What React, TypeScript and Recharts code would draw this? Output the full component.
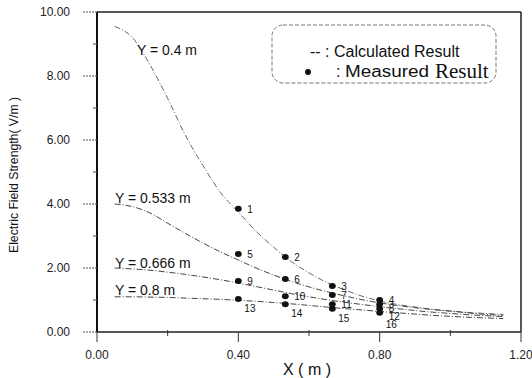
import {
  ComposedChart,
  Line,
  Scatter,
  XAxis,
  YAxis,
  ReferenceLine,
  ReferenceDot,
  Customized,
} from "recharts";

// calculated curves, sampled along X (m)
const curveX = [0.05, 0.1, 0.15, 0.2, 0.25, 0.3, 0.35, 0.4, 0.45, 0.5, 0.55, 0.6, 0.65, 0.7, 0.75, 0.8, 0.85, 0.9, 0.95, 1.0, 1.05, 1.1, 1.15];
const curveY04 = [9.55, 9.2, 8.35, 7.3, 6.15, 5.2, 4.35, 3.75, 3.15, 2.65, 2.2, 1.85, 1.55, 1.32, 1.12, 0.97, 0.86, 0.78, 0.71, 0.66, 0.61, 0.58, 0.55];
const curveY0533 = [4.0, 3.92, 3.72, 3.4, 3.08, 2.78, 2.5, 2.25, 2.0, 1.78, 1.58, 1.41, 1.26, 1.13, 1.01, 0.91, 0.83, 0.76, 0.7, 0.65, 0.6, 0.55, 0.52];
const curveY0666 = [2.0, 1.97, 1.93, 1.87, 1.8, 1.72, 1.63, 1.53, 1.42, 1.31, 1.2, 1.1, 1.01, 0.93, 0.86, 0.79, 0.73, 0.67, 0.62, 0.58, 0.54, 0.51, 0.48];
const curveY08 = [1.1, 1.1, 1.09, 1.08, 1.06, 1.04, 1.02, 0.99, 0.96, 0.92, 0.88, 0.83, 0.78, 0.73, 0.69, 0.64, 0.6, 0.56, 0.52, 0.49, 0.46, 0.44, 0.42];

const curveNames = ["Y = 0.4 m", "Y = 0.533 m", "Y = 0.666 m", "Y = 0.8 m"];
const curveLabelX = [0.113, 0.051, 0.051, 0.051];
const curveLabelY = [8.65, 4.03, 2.0, 1.16];

// measured points
const pointId = [1, 2, 3, 4, 5, 6, 7, 8, 9, 10, 11, 12, 13, 14, 15, 16];
const pointX = [0.4, 0.533, 0.666, 0.8, 0.4, 0.533, 0.666, 0.8, 0.4, 0.533, 0.666, 0.8, 0.4, 0.533, 0.666, 0.8];
const pointY = [3.85, 2.34, 1.44, 1.0, 2.44, 1.66, 1.16, 0.87, 1.59, 1.12, 0.87, 0.73, 1.03, 0.87, 0.73, 0.6];

const xTicks = [0, 0.2, 0.4, 0.6, 0.8, 1.0, 1.2];
const xMajor = [0, 0.4, 0.8, 1.2];
const yTicks = [0, 1, 2, 3, 4, 5, 6, 7, 8, 9, 10];
const yMajor = [0, 2, 4, 6, 8, 10];

const curves = [curveY04, curveY0533, curveY0666, curveY08].map((ys) =>
  curveX.map((x, i) => ({ x, y: ys[i] }))
);
const points = pointId.map((id, i) => ({ id, x: pointX[i], y: pointY[i] }));

// number labels: bottom row sits below its dot, and labels in one column
// are kept a little apart so they don't pile up at X = 0.8
const labelPoints = (() => {
  const out: { id: number; x: number; y: number; low: boolean }[] = [];
  const xsSeen = Array.from(new Set(pointX));
  xsSeen.forEach((x) => {
    const group = points.filter((p) => p.x === x).sort((a, b) => b.y - a.y);
    let prev = Infinity;
    group.forEach((p) => {
      const low = p.id > 12;
      let ly = low ? p.y - 0.28 : p.y;
      ly = Math.min(ly, prev - 0.25);
      prev = ly;
      out.push({ id: p.id, x: p.x, y: ly, low });
    });
  });
  return out;
})();

const FONT = "'Liberation Sans', Arial, sans-serif";

function XTick(props: any) {
  const { x, y, payload } = props;
  const major = xMajor.some((m) => Math.abs(m - payload.value) < 1e-6);
  return (
    <g>
      <line x1={x} x2={x} y1={y - (major ? 0 : 2)} y2={y + (major ? 10 : 4)} stroke="#333" />
      {major && (
        <text x={x} y={y + 27} textAnchor="middle" fontSize={12} fill="#222" fontFamily={FONT}>
          {payload.value.toFixed(2)}
        </text>
      )}
    </g>
  );
}

function YTick(props: any) {
  const { x, y, payload } = props;
  const major = yMajor.includes(payload.value);
  return (
    <g>
      <line x1={x - (major ? 14 : 4)} x2={x} y1={y} y2={y} stroke="#555" strokeDasharray={major ? "2 1" : undefined} />
      {major && (
        <text x={x - 27} y={y + 4} textAnchor="end" fontSize={12} fill="#222" fontFamily={FONT}>
          {payload.value.toFixed(2)}
        </text>
      )}
    </g>
  );
}

function MeasuredDot(props: any) {
  const { cx, cy } = props;
  return <ellipse cx={cx} cy={cy} rx={3.4} ry={3} fill="#111" />;
}

function PointNumber(props: any) {
  const { cx, cy, payload } = props;
  return (
    <text x={cx + (payload.low ? 6 : 9)} y={cy + 4} fontSize={10} fill="#111" fontFamily={FONT}>
      {payload.id}
    </text>
  );
}

function CurveLabel(props: any) {
  const { viewBox, value } = props;
  return (
    <text x={viewBox.x} y={viewBox.y} fontSize={14} fill="#111" fontFamily={FONT}>
      {value}
    </text>
  );
}

function Overlay() {
  return (
    <g fontFamily={FONT} fill="#111">
      <text
        transform="translate(18,175) rotate(-90)"
        textAnchor="middle"
        fontSize={13}
        textLength={156}
        lengthAdjust="spacingAndGlyphs"
      >
        Electric Field Strength( V/m )
      </text>
      <rect x={272} y={25} width={224} height={58} rx={11} fill="#fff" stroke="#777" strokeDasharray="4 2" />
      <text x={310} y={57} fontSize={16}>
        -- : Calculated Result
      </text>
      <circle cx={308} cy={72} r={3} fill="#111" />
      <text x={336} y={77} fontSize={16}>
        :
      </text>
      <text x={345} y={77} fontSize={16} textLength={84} lengthAdjust="spacingAndGlyphs">
        Measured
      </text>
      <text x={435} y={78} fontSize={21} fontFamily="'Liberation Serif', 'Times New Roman', serif">
        Result
      </text>
    </g>
  );
}

export default function App() {
  return (
    <div style={{ position: "absolute", left: 0, top: 0, background: "#fff" }}>
      <ComposedChart
        width={532}
        height={378}
        margin={{ top: 12, right: 11, bottom: 0, left: 0 }}
        style={{ fontFamily: FONT }}
      >
        <XAxis
          type="number"
          dataKey="x"
          domain={[0, 1.2]}
          ticks={xTicks}
          interval={0}
          tickSize={0}
          tickMargin={0}
          tick={<XTick />}
          height={46}
          axisLine={{ stroke: "#222", strokeWidth: 1.6 }}
          allowDataOverflow
          label={{ value: "X ( m )", position: "insideBottom", offset: 3, fontSize: 16, fill: "#111", dx: -2 }}
        />
        <YAxis
          type="number"
          dataKey="y"
          domain={[0, 10]}
          ticks={yTicks}
          interval={0}
          tickSize={0}
          tickMargin={0}
          tick={<YTick />}
          width={97}
          axisLine={{ stroke: "#111", strokeWidth: 2 }}
          allowDataOverflow
        />
        <ReferenceLine y={10} stroke="#222" strokeWidth={1.5} />
        <ReferenceLine x={1.2} stroke="#222" strokeWidth={1.5} />
        {curves.map((d, i) => (
          <Line
            key={curveNames[i]}
            data={d}
            dataKey="y"
            type="monotone"
            dot={false}
            stroke={i === 0 ? "#666" : "#444"}
            strokeWidth={1}
            strokeDasharray="6 2 1 2"
            isAnimationActive={false}
          />
        ))}
        <Scatter data={points} dataKey="y" shape={<MeasuredDot />} isAnimationActive={false} />
        <Scatter data={labelPoints} dataKey="y" shape={<PointNumber />} isAnimationActive={false} />
        {curveNames.map((name, i) => (
          <ReferenceDot
            key={name}
            x={curveLabelX[i]}
            y={curveLabelY[i]}
            r={0}
            fill="none"
            stroke="none"
            label={<CurveLabel value={name} />}
          />
        ))}
        <Customized component={<Overlay />} />
      </ComposedChart>
    </div>
  );
}
